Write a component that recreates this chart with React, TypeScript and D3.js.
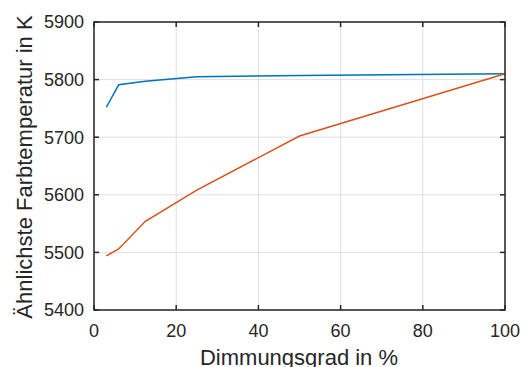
import * as d3 from 'd3';

// Dimmungsgrad in %
const dimming = [3, 6, 12.5, 25, 50, 100];
// Ähnlichste Farbtemperatur (K)
const seriesBlue = [5752, 5791, 5797, 5805, 5807, 5810];
const seriesOrange = [5494, 5506, 5554, 5608, 5702, 5810];

const xTicks = [0, 20, 40, 60, 80, 100];
const yTicks = [5400, 5500, 5600, 5700, 5800, 5900];

const W = 521;
const H = 367;
const left = 94, right = 505, top = 22, bottom = 310;
const font = '"Liberation Sans", Arial, sans-serif';
const axisColor = '#262626';

export default function App() {
    const x = d3.scaleLinear().domain([0, 100]).range([left, right]);
    const y = d3.scaleLinear().domain([5400, 5900]).range([bottom, top]);

    const line = d3.line<number>()
        .x((d, i) => x(dimming[i]))
        .y(d => y(d));

    const tickLen = 5;

    return (
        <svg width={W} height={H} style={{ position: 'absolute', left: 0, top: 0, background: '#fff' }}>
            {/* grid */}
            {xTicks.map(t => (
                <line key={'gx' + t} x1={x(t)} x2={x(t)} y1={top} y2={bottom} stroke="#dfdfdf" strokeWidth={1} />
            ))}
            {yTicks.map(t => (
                <line key={'gy' + t} x1={left} x2={right} y1={y(t)} y2={y(t)} stroke="#dfdfdf" strokeWidth={1} />
            ))}

            {/* data */}
            <path d={line(seriesBlue) || ''} fill="none" stroke="#0072BD" strokeWidth={1.5} />
            <path d={line(seriesOrange) || ''} fill="none" stroke="#D95319" strokeWidth={1.5} />

            {/* box */}
            <rect x={left} y={top} width={right - left} height={bottom - top} fill="none" stroke={axisColor} strokeWidth={1.5} />

            {/* ticks */}
            {xTicks.map(t => (
                <g key={'tx' + t}>
                    <line x1={x(t)} x2={x(t)} y1={bottom} y2={bottom - tickLen} stroke={axisColor} strokeWidth={1.5} />
                    <line x1={x(t)} x2={x(t)} y1={top} y2={top + tickLen} stroke={axisColor} strokeWidth={1.5} />
                    <text x={x(t)} y={bottom + 27} textAnchor="middle" fontFamily={font} fontSize={18} fill={axisColor}>{t}</text>
                </g>
            ))}
            {yTicks.map(t => (
                <g key={'ty' + t}>
                    <line x1={left} x2={left + tickLen} y1={y(t)} y2={y(t)} stroke={axisColor} strokeWidth={1.5} />
                    <line x1={right} x2={right - tickLen} y1={y(t)} y2={y(t)} stroke={axisColor} strokeWidth={1.5} />
                    <text x={left - 10} y={y(t)} dy="0.35em" textAnchor="end" fontFamily={font} fontSize={18} fill={axisColor}>{t}</text>
                </g>
            ))}

            {/* labels */}
            <text x={299} y={365} textAnchor="middle" fontFamily={font} fontSize={22} fill={axisColor}>Dimmungsgrad in %</text>
            <text transform="translate(32,167) rotate(-90)" textAnchor="middle" fontFamily={font} fontSize={22} fill={axisColor}>Ähnlichste Farbtemperatur in K</text>
        </svg>
    );
}
